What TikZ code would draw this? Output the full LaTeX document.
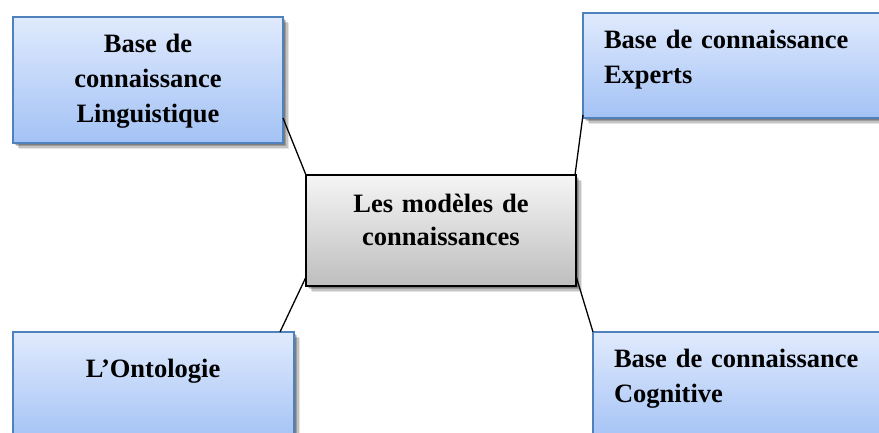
\documentclass[tikz,border=0pt]{standalone}
\usepackage{fontspec}
\setmainfont{Liberation Serif}
\usetikzlibrary{shadows,calc}
\definecolor{boxtop}{RGB}{224,234,253}
\definecolor{boxbot}{RGB}{163,194,245}
\definecolor{boxedge}{RGB}{79,129,189}
\definecolor{midtop}{RGB}{245,245,245}
\definecolor{midbot}{RGB}{190,190,190}
\tikzset{
  softshadow/.style={
    drop shadow={shadow xshift=1.5pt,shadow yshift=-1.5pt,opacity=.2,fill=black},
    drop shadow={shadow xshift=3pt,shadow yshift=-3pt,opacity=.2,fill=black},
    drop shadow={shadow xshift=4.5pt,shadow yshift=-4.5pt,opacity=.15,fill=black},
    drop shadow={shadow xshift=6pt,shadow yshift=-6pt,opacity=.1,fill=black}},
  boxbase/.style={rectangle, inner sep=0pt, outer sep=0pt, anchor=north west, softshadow},
  bluebox/.style={boxbase, draw=boxedge, line width=1.5pt, top color=boxtop, bottom color=boxbot},
  midbox/.style={boxbase, draw=black, line width=1.6pt, top color=midtop, bottom color=midbot},
  txt/.style={inner sep=0pt, outer sep=0pt, font=\fontsize{26.5}{35}\selectfont\bfseries},
  conn/.style={draw=black, line width=1.3pt}
}
\begin{document}
\begin{tikzpicture}[x=1pt,y=-1pt]
\useasboundingbox (0,0) rectangle (879,432);
\clip (0,0) rectangle (879,432);
% boxes
\node[bluebox, minimum width=270pt, minimum height=126pt] (tl) at (13,17) {};
\node[bluebox, minimum width=310pt, minimum height=105pt] (tr) at (583,13) {};
\node[midbox, minimum width=270pt, minimum height=111pt] (c) at (306,175) {};
\node[bluebox, minimum width=281pt, minimum height=110pt] (bl) at (13,332) {};
\node[bluebox, minimum width=300pt, minimum height=110pt] (br) at (593,332) {};
% connectors
\draw[conn] ($(tl.south east)+(0,-25)$) -- (c.north west);
\draw[conn] ($(tr.south west)+(0,-3)$) -- ($(c.north east)+(-1,0)$);
\draw[conn] ($(c.south west)+(0,-9)$) -- ($(bl.north east)+(-14,0)$);
\draw[conn] ($(c.south east)+(0,-10)$) -- (br.north west);
% texts
\node[txt, text width=270pt, align=center, anchor=base] (tltext) at (148,52) {Base de\\connaissance\\Linguistique};
\node[txt, text width=270pt, align=left, anchor=base west] (trtext) at (604,48) {Base de connaissance\\Experts};
\node[txt, font=\fontsize{26.5}{33}\selectfont\bfseries, text width=270pt, align=center, anchor=base] (ctext) at (441,212) {Les modèles de\\connaissances};
\node[txt, text width=270pt, align=center, anchor=base] (bltext) at (153,377) {L’Ontologie};
\node[txt, text width=270pt, align=left, anchor=base west] (brtext) at (614,367) {Base de connaissance\\Cognitive};
\end{tikzpicture}
\end{document}
